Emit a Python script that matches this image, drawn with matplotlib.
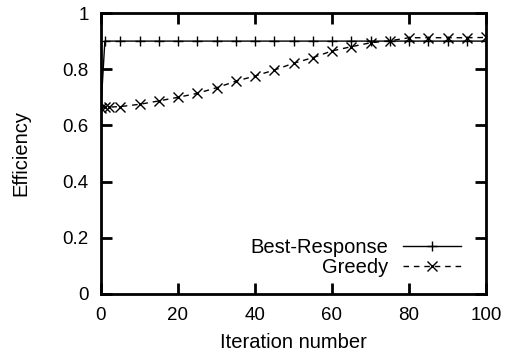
import matplotlib
matplotlib.use("Agg")
import matplotlib.pyplot as plt
from matplotlib.legend_handler import HandlerLine2D

plt.rcParams['font.family'] = ['Liberation Sans', 'DejaVu Sans']

br_x = [0, 1, 5, 10, 15, 20, 25, 30, 35, 40, 45, 50, 55, 60, 65, 70, 75, 80, 85, 90, 95, 100]
br_y = [0.665, 0.9, 0.9, 0.9, 0.9, 0.9, 0.9, 0.9, 0.9, 0.9, 0.9, 0.9, 0.9, 0.9, 0.9, 0.9, 0.9, 0.9, 0.9, 0.9, 0.9, 0.9]

gr_x = [0, 1, 2, 5, 10, 15, 20, 25, 30, 35, 40, 45, 50, 55, 60, 65, 70, 75, 80, 85, 90, 95, 100]
gr_y = [0.662, 0.664, 0.665, 0.667, 0.675, 0.687, 0.700, 0.714, 0.734, 0.757, 0.776, 0.797,
        0.821, 0.841, 0.865, 0.880, 0.894, 0.901, 0.912, 0.912, 0.912, 0.912, 0.913]

xticks = [0, 20, 40, 60, 80, 100]
yticks = [0, 0.2, 0.4, 0.6, 0.8, 1]
ytick_labels = ['0', '0.2', '0.4', '0.6', '0.8', '1']

fig = plt.figure(figsize=(5.07, 3.56), dpi=100)
ax = fig.add_axes([101/507, 1 - 294/356, (486-101)/507, (294-13)/356])

ax.plot(br_x, br_y, color='black', lw=1.0, marker='+', ms=6.5, mew=1.0,
        label='Best-Response')
ax.plot(gr_x, gr_y, color='black', lw=1.0, ls=(0, (4, 3.5)), marker='x', ms=7, mew=1.0,
        label='Greedy')

ax.set_xlim(0, 100)
ax.set_ylim(0, 1)
ax.set_xticks(xticks)
ax.set_yticks(yticks)
ax.set_yticklabels(ytick_labels)
ax.tick_params(direction='in', length=8, width=2, top=True, right=True,
               labelsize=13.5)
ax.tick_params(axis='x', pad=9)
ax.tick_params(axis='y', pad=9)
for s in ax.spines.values():
    s.set_linewidth(2)

ax.set_xlabel('Iteration number', fontsize=14.5, labelpad=7)
ax.set_ylabel('Efficiency', fontsize=14.5, labelpad=23)

leg = ax.legend(loc='lower right', bbox_to_anchor=(0.935, 0.06), frameon=False,
                markerfirst=False, fontsize=14.5, handlelength=2.9,
                handletextpad=0.7, labelspacing=0.05, borderaxespad=0, borderpad=0,
                handler_map={l: HandlerLine2D(numpoints=1) for l in ax.get_lines()})

fig.savefig('out.png', dpi=100)
